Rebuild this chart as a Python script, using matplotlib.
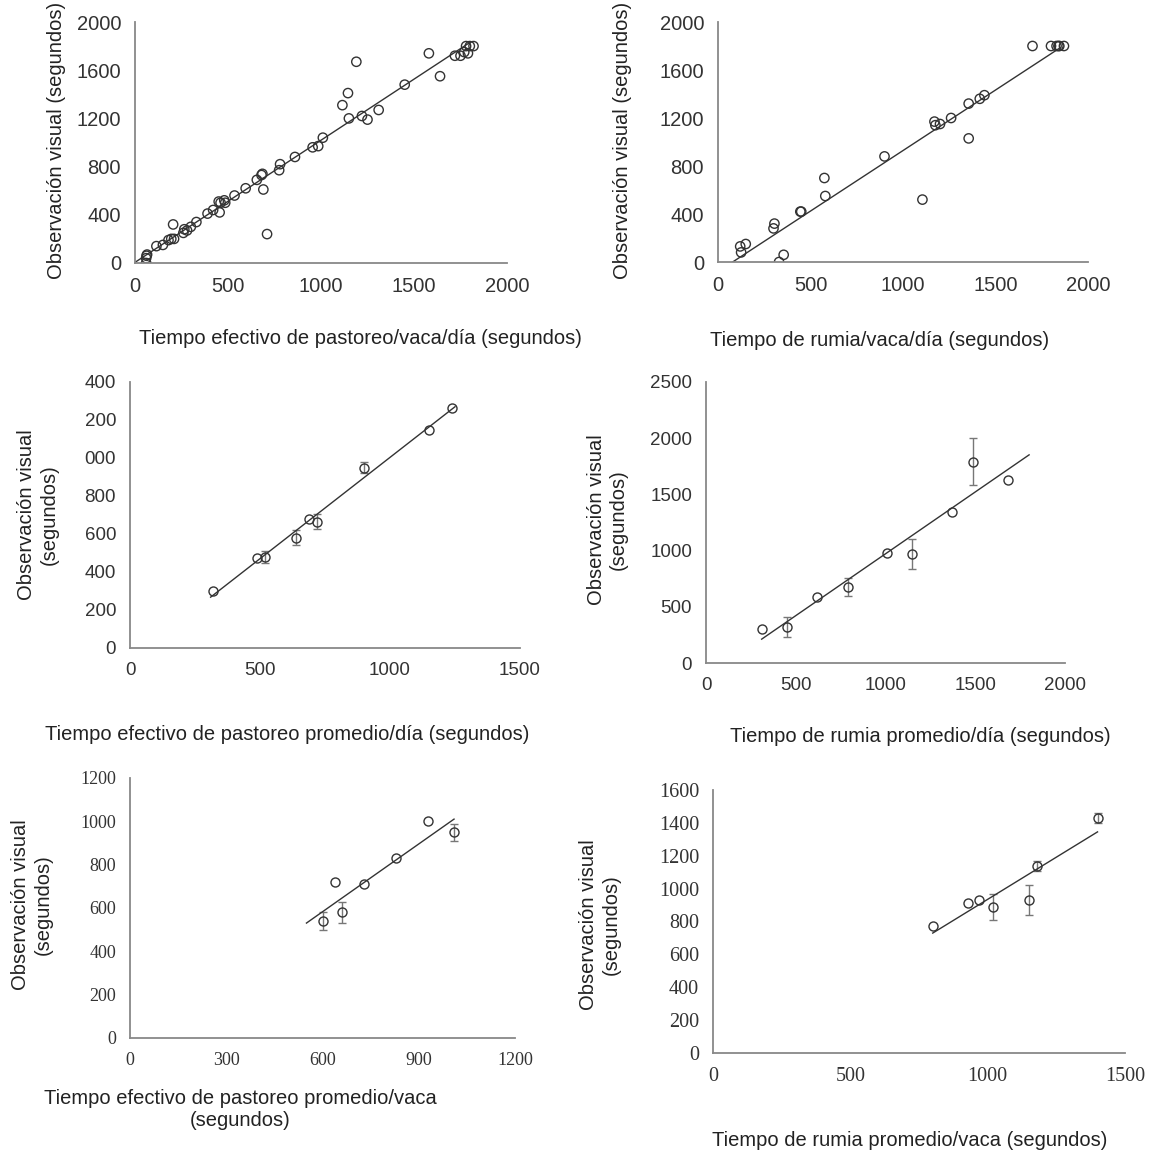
import numpy as np
import matplotlib.pyplot as plt

# datos
p1_x = [60, 62, 65, 60, 115, 150, 180, 195, 205, 210, 260, 265, 280, 300, 330, 390, 420, 450, 455, 460, 480, 485,
        535, 595, 655, 680, 685, 690, 710, 775, 780, 860, 955, 985, 1010, 1115, 1145, 1150, 1190, 1220, 1250, 1310,
        1450, 1580, 1640, 1720, 1750, 1770, 1780, 1790, 1800, 1820]
p1_y = [0, 60, 70, 40, 140, 150, 190, 200, 320, 200, 250, 280, 270, 300, 340, 410, 440, 510, 420, 500, 520, 500,
        560, 620, 690, 730, 740, 610, 240, 770, 820, 880, 960, 970, 1040, 1310, 1410, 1200, 1670, 1220, 1190, 1270,
        1480, 1740, 1550, 1720, 1720, 1750, 1800, 1740, 1800, 1800]
p2_x = [120, 125, 150, 300, 305, 330, 355, 445, 450, 575, 580, 900, 1105, 1170, 1175, 1200, 1260, 1355, 1355, 1415,
        1440, 1700, 1800, 1830, 1840, 1845, 1870]
p2_y = [130, 80, 150, 280, 320, 0, 60, 420, 420, 700, 550, 880, 520, 1170, 1140, 1150, 1200, 1320, 1030, 1360,
        1390, 1800, 1800, 1800, 1800, 1800, 1800]

p3_x = [320, 490, 520, 640, 690, 720, 900, 1150, 1240]
p3_y = [300, 475, 480, 580, 680, 665, 950, 1150, 1265]
p3_e = [0, 0, 30, 40, 0, 40, 30, 0, 0]

p4_x = [310, 450, 620, 790, 1010, 1150, 1370, 1490, 1680]
p4_y = [300, 320, 590, 680, 980, 970, 1340, 1790, 1630]
p4_e = [0, 90, 0, 80, 0, 130, 0, 210, 0]

p5_x = [600, 640, 660, 730, 830, 930, 1010]
p5_y = [540, 720, 580, 710, 830, 1000, 950]
p5_e = [40, 0, 50, 0, 0, 0, 40]

p6_x = [800, 930, 970, 1020, 1150, 1180, 1400]
p6_y = [770, 915, 930, 890, 930, 1140, 1430]
p6_e = [0, 0, 0, 80, 90, 30, 30]

sans = ['Liberation Sans Narrow', 'Liberation Sans', 'DejaVu Sans']
serif = ['Liberation Serif', 'DejaVu Serif']
plt.rcParams['font.family'] = sans

W, H = 1160, 1158
fig = plt.figure(figsize=(W / 100, H / 100), dpi=100)


def panel(x0, x1, ytop, ybot, xs, ys, err, xlim, ylim, xt, yt, ytl=None, font=sans, fs=13.5, line=None):
    ax = fig.add_axes([x0 / W, 1 - ybot / H, (x1 - x0) / W, (ybot - ytop) / H])
    if err is None:
        ax.scatter(xs, ys, s=45, facecolors='none', edgecolors='#333333', linewidths=1)
    else:
        ax.errorbar(xs, ys, yerr=[e if e > 0 else np.nan for e in err], fmt='o', ms=6.5, mfc='none',
                    mec='#333333', ecolor='#777777', capsize=3, elinewidth=1, mew=1)
    k, b = np.polyfit(xs, ys, 1)
    lx = np.array(line if line else [min(xs), max(xs)])
    ax.plot(lx, k * lx + b, color='#333333', lw=1)
    ax.set_xlim(*xlim)
    ax.set_ylim(*ylim)
    ax.set_xticks(xt)
    ax.set_yticks(yt)
    if ytl:
        ax.set_yticklabels(ytl)
    for s in ['top', 'right']:
        ax.spines[s].set_visible(False)
    for s in ['left', 'bottom']:
        ax.spines[s].set_color('#888888')
        ax.spines[s].set_linewidth(1.3)
    ax.tick_params(length=0, labelsize=fs, colors='#333333', pad=10)
    for t in ax.get_xticklabels() + ax.get_yticklabels():
        t.set_family(font)
    return ax


panel(135, 507, 22, 263, p1_x, p1_y, None, (0, 2000), (0, 2000), range(0, 2001, 500), range(0, 2001, 400),
      fs=14.5, line=[0, 1800])
panel(718, 1088, 22, 262, p2_x, p2_y, None, (0, 2000), (0, 2000), range(0, 2001, 500), range(0, 2001, 400),
      fs=14.5, line=[60, 1850])
panel(130, 520, 382, 648, p3_x, p3_y, p3_e, (0, 1500), (0, 1400), range(0, 1501, 500), range(0, 1401, 200),
      ytl=['0', '200', '400', '600', '800', '000', '200', '400'], line=[310, 1250])
panel(706, 1065, 382, 663, p4_x, p4_y, p4_e, (0, 2000), (0, 2500), range(0, 2001, 500), range(0, 2501, 500),
      line=[310, 1800])
panel(130, 515, 778, 1038, p5_x, p5_y, p5_e, (0, 1200), (0, 1200), range(0, 1201, 300), range(0, 1201, 200),
      font=serif, fs=13, line=[550, 1010])
panel(713, 1125, 790, 1053, p6_x, p6_y, p6_e, (0, 1500), (0, 1600), range(0, 1501, 500), range(0, 1601, 200),
      font=serif, fs=14.5, line=[800, 1400])

lab = dict(fontsize=14.5, color='#222222', ha='center', va='center')
yl1 = 'Observación visual (segundos)'
yl2 = 'Observación visual\n(segundos)'
fig.text(360 / W, 1 - 338 / H, 'Tiempo efectivo de pastoreo/vaca/día (segundos)', **lab)
fig.text(57 / W, 1 - 140 / H, yl1, rotation=90, **lab)
fig.text(880 / W, 1 - 340 / H, 'Tiempo de rumia/vaca/día (segundos)', **lab)
fig.text(622 / W, 1 - 140 / H, yl1, rotation=90, **lab)
fig.text(287 / W, 1 - 735 / H, 'Tiempo efectivo de pastoreo promedio/día (segundos)', **lab)
fig.text(38 / W, 1 - 515 / H, yl2, rotation=90, **lab)
fig.text(920 / W, 1 - 737 / H, 'Tiempo de rumia promedio/día (segundos)', **lab)
fig.text(607 / W, 1 - 520 / H, yl2, rotation=90, **lab)
fig.text(240 / W, 1 - 1110 / H, 'Tiempo efectivo de pastoreo promedio/vaca\n(segundos)', **lab)
fig.text(32 / W, 1 - 905 / H, yl2, rotation=90, **lab)
fig.text(910 / W, 1 - 1140 / H, 'Tiempo de rumia promedio/vaca (segundos)', **lab)
fig.text(600 / W, 1 - 925 / H, yl2, rotation=90, **lab)

fig.savefig('out.png', dpi=100, facecolor='white')
